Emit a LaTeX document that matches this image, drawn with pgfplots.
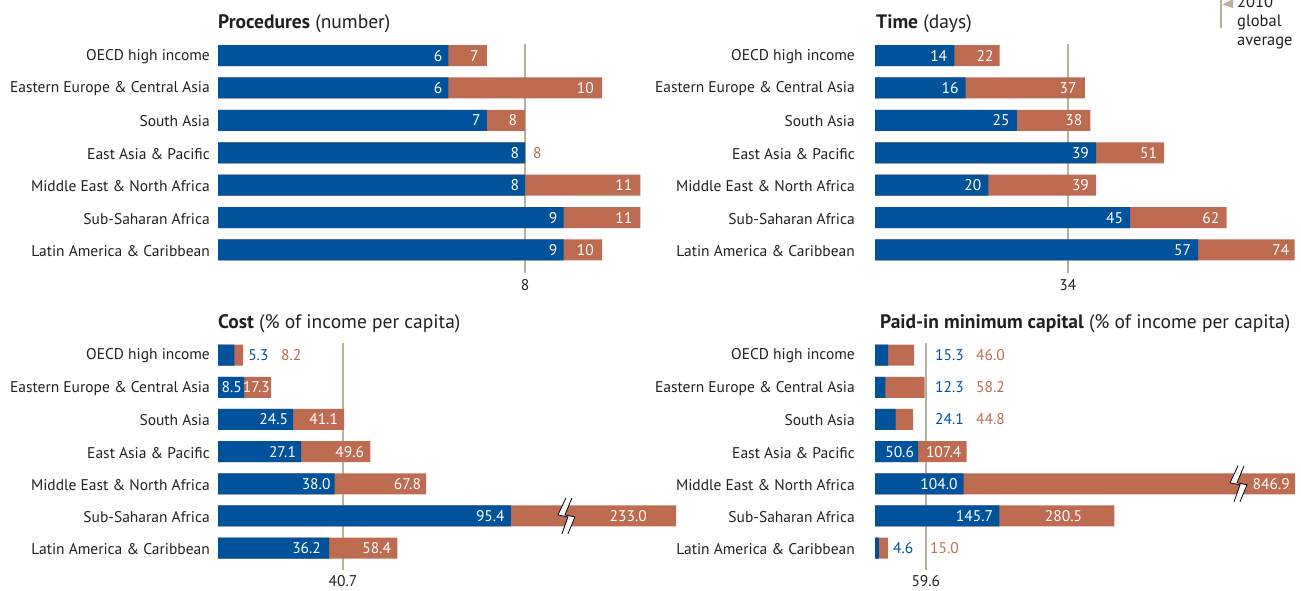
\documentclass[border=0pt]{standalone}
\usepackage{pgfplots}
\pgfplotsset{compat=1.18}
\usepackage{fontspec}
\setmainfont{PT Sans}
\definecolor{cblue}{RGB}{0,83,155}
\definecolor{corange}{RGB}{189,108,82}
\definecolor{ctan}{RGB}{184,176,155}
\definecolor{ctext}{RGB}{35,31,32}
\newcommand{\lbl}{\fontsize{15.5}{18}\selectfont}
\newcommand{\ttl}{\fontsize{19.5}{22}\selectfont}
\newcommand{\inlab}[4]{\node[anchor=east,inner sep=0pt,text=white,font=\lbl,xshift=-#4pt] at (axis cs:#1,#2) {#3};}
\newcommand{\outlab}[4]{\node[anchor=west,inner sep=0pt,text=#4,font=\lbl] at (axis cs:#1,#2) {#3};}
\newcommand{\brk}[2]{%
  \begin{scope}[shift={(axis cs:#1,#2)}]
    \fill[white] (1pt,18pt) -- (-7pt,1pt) -- (3pt,-1pt) -- (-3pt,-18pt) -- (3pt,-18pt) -- (10pt,-1pt) -- (0pt,1pt) -- (7pt,18pt) -- cycle;
    \draw[black,line width=0.8pt] (1pt,18pt) -- (-7pt,1pt) -- (3pt,-1pt) -- (-3pt,-18pt);
    \draw[black,line width=0.8pt] (7pt,18pt) -- (0pt,1pt) -- (10pt,-1pt) -- (3pt,-18pt);
  \end{scope}}
\pgfplotsset{
  panel/.style={
    anchor=north west, scale only axis,
    xmin=0, ymin=-0.5, ymax=6.5, y dir=reverse,
    axis line style={draw=none}, major tick length=0pt,
    xtick=\empty, ytick={0,...,6},
    yticklabels={OECD high income, Eastern Europe \& Central Asia, South Asia, East Asia \& Pacific, Middle East \& North Africa, Sub-Saharan Africa, Latin America \& Caribbean},
    yticklabel style={font=\lbl, text=ctext, anchor=east, inner sep=0pt},
    clip=false,
  },
  obar/.style={xbar, bar width=21pt, bar shift=0pt, fill=corange, draw=none},
  bbar/.style={xbar, bar width=21pt, bar shift=0pt, fill=cblue, draw=none},
  avg/.style={ctan, line width=2pt},
}
\begin{document}
\begin{tikzpicture}
\useasboundingbox (0pt,0pt) rectangle (1301pt,590pt);
% ---------- Procedures ----------
\node[anchor=base west, font=\ttl, text=ctext, inner sep=0pt] at (218pt,561pt) {\textbf{Procedures} (number)};
\begin{axis}[panel, at={(218pt,550.6pt)}, width=441.6pt, height=226.8pt, xmax=11.5,
  yticklabel style={xshift=-8pt, yshift=-1pt}]
\addplot[avg] coordinates {(8,-0.36) (8,6.71)};
\addplot[obar] coordinates {(7,0) (10,1) (8,2) (8,3) (11,4) (11,5) (10,6)};
\addplot[bbar] coordinates {(6,0) (6,1) (7,2) (8,3) (8,4) (9,5) (9,6)};
\node[font=\lbl, text=ctext, inner sep=0pt] at (axis cs:8,7.08) {8};
\inlab{6}{0}{6}{6}\inlab{6}{1}{6}{6}\inlab{7}{2}{7}{6}\inlab{8}{3}{8}{6}
\inlab{8}{4}{8}{6}\inlab{9}{5}{9}{6}\inlab{9}{6}{9}{6}
\inlab{7}{0}{7}{8}\inlab{10}{1}{10}{8}\inlab{8}{2}{8}{8}
\inlab{11}{4}{11}{8}\inlab{11}{5}{11}{8}\inlab{10}{6}{10}{8}
\outlab{8.2}{3}{8}{corange}
\end{axis}
% ---------- Time ----------
\node[anchor=base west, font=\ttl, text=ctext, inner sep=0pt] at (876pt,561pt) {\textbf{Time} (days)};
\begin{axis}[panel, at={(875pt,550.6pt)}, width=425.25pt, height=226.8pt, xmax=75,
  yticklabel style={xshift=-20pt, yshift=-1pt}]
\addplot[avg] coordinates {(34,-0.36) (34,6.71)};
\addplot[obar] coordinates {(22,0) (37,1) (38,2) (51,3) (39,4) (62,5) (74,6)};
\addplot[bbar] coordinates {(14,0) (16,1) (25,2) (39,3) (20,4) (45,5) (57,6)};
\node[font=\lbl, text=ctext, inner sep=0pt] at (axis cs:34,7.08) {34};
\inlab{14}{0}{14}{7}\inlab{16}{1}{16}{7}\inlab{25}{2}{25}{7}\inlab{39}{3}{39}{7}
\inlab{20}{4}{20}{7}\inlab{45}{5}{45}{7}\inlab{57}{6}{57}{7}
\inlab{22}{0}{22}{6}\inlab{37}{1}{37}{8}\inlab{38}{2}{38}{8}\inlab{51}{3}{51}{7}
\inlab{39}{4}{39}{7}\inlab{62}{5}{62}{7}\inlab{74}{6}{74}{5}
\end{axis}
% ---------- Cost ----------
\node[anchor=base west, font=\ttl, text=ctext, inner sep=0pt] at (218pt,262pt) {\textbf{Cost} (\% of income per capita)};
\begin{axis}[panel, at={(218pt,251pt)}, width=460.5pt, height=225.2pt, xmax=150,
  yticklabel style={xshift=-8pt, yshift=-1pt}]
\addplot[avg] coordinates {(40.7,-0.37) (40.7,6.68)};
\addplot[obar] coordinates {(8.2,0) (17.3,1) (41.1,2) (49.6,3) (67.8,4) (149.2,5) (58.4,6)};
\addplot[bbar] coordinates {(5.3,0) (8.5,1) (24.5,2) (27.1,3) (38.0,4) (95.4,5) (36.2,6)};
\node[font=\lbl, text=ctext, inner sep=0pt] at (axis cs:40.7,7.02) {40.7};
\brk{113}{5}
\inlab{8.5}{1}{8.5}{2}\inlab{24.5}{2}{24.5}{5}\inlab{27.1}{3}{27.1}{5}
\inlab{38.0}{4}{38.0}{4}\inlab{95.4}{5}{95.4}{6}\inlab{36.2}{6}{36.2}{8}
\inlab{17.3}{1}{17.3}{1}\inlab{41.1}{2}{41.1}{6}\inlab{49.6}{3}{49.6}{6}
\inlab{67.8}{4}{67.8}{5}\inlab{149.2}{5}{233.0}{29}\inlab{58.4}{6}{58.4}{6}
\outlab{9.8}{0}{5.3}{cblue}\outlab{20.5}{0}{8.2}{corange}
\end{axis}
% ---------- Paid-in minimum capital ----------
\node[anchor=base west, font=\ttl, text=ctext, inner sep=0pt] at (880pt,262pt) {\textbf{Paid-in minimum capital} (\% of income per capita)};
\begin{axis}[panel, at={(875pt,251pt)}, width=426.5pt, height=225.2pt, xmax=500,
  yticklabel style={xshift=-20pt, yshift=-1pt}]
\addplot[avg] coordinates {(59.6,-0.37) (59.6,6.68)};
\addplot[obar] coordinates {(46.0,0) (58.2,1) (44.8,2) (107.4,3) (492.4,4) (280.5,5) (15.0,6)};
\addplot[bbar] coordinates {(15.3,0) (12.3,1) (24.1,2) (50.6,3) (104.0,4) (145.7,5) (4.6,6)};
\node[font=\lbl, text=ctext, inner sep=0pt] at (axis cs:59.6,7.02) {59.6};
\brk{424.4}{4}
\inlab{50.6}{3}{50.6}{4}\inlab{104.0}{4}{104.0}{6}\inlab{145.7}{5}{145.7}{6}
\inlab{107.4}{3}{107.4}{5}\inlab{492.4}{4}{846.9}{5}\inlab{280.5}{5}{280.5}{32}
\outlab{70.3}{0}{15.3}{cblue}\outlab{118.4}{0}{46.0}{corange}
\outlab{70.3}{1}{12.3}{cblue}\outlab{118.4}{1}{58.2}{corange}
\outlab{70.3}{2}{24.1}{cblue}\outlab{118.4}{2}{44.8}{corange}
\outlab{21.1}{6}{4.6}{cblue}\outlab{64.5}{6}{15.0}{corange}
\end{axis}
% ---------- legend ----------
\draw[ctan, line width=2.5pt] (1221pt,592pt) -- (1221pt,562pt);
\fill[ctan] (1233pt,591pt) -- (1233pt,582pt) -- (1222.5pt,585.5pt) -- cycle;
\node[anchor=north west, font=\fontsize{16.5}{19}\selectfont, text=ctext, inner sep=0pt, align=left] at (1237pt,594pt) {2010\\global\\average};
\end{tikzpicture}
\end{document}
